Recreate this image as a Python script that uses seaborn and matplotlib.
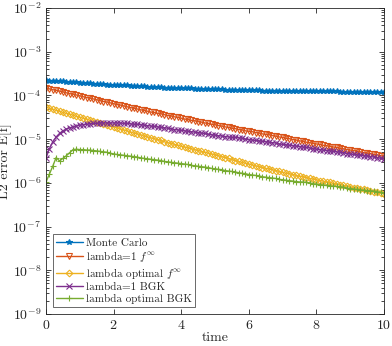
import numpy as np
import pandas as pd
import matplotlib
matplotlib.use("Agg")
import matplotlib.pyplot as plt
import seaborn as sns
from matplotlib.ticker import LogLocator

# time grid and log10 of the error for each run
time = np.round(np.arange(0, 10.01, 0.1), 1)

mc_log = [-3.65, -3.66, -3.66, -3.67, -3.67, -3.68, -3.69, -3.69, -3.70, -3.70, -3.71,
          -3.71, -3.72, -3.72, -3.73, -3.73, -3.74, -3.74, -3.75, -3.75, -3.76,
          -3.76, -3.77, -3.77, -3.77, -3.78, -3.78, -3.79, -3.79, -3.79, -3.80,
          -3.80, -3.81, -3.81, -3.81, -3.82, -3.82, -3.82, -3.83, -3.83, -3.83,
          -3.84, -3.84, -3.84, -3.85, -3.85, -3.85, -3.85, -3.86, -3.86, -3.86,
          -3.86, -3.86, -3.87, -3.87, -3.87, -3.87, -3.87, -3.88, -3.88, -3.88,
          -3.88, -3.88, -3.88, -3.89, -3.89, -3.89, -3.89, -3.89, -3.89, -3.90,
          -3.90, -3.90, -3.90, -3.90, -3.90, -3.90, -3.91, -3.91, -3.91, -3.91,
          -3.91, -3.91, -3.91, -3.91, -3.91, -3.91, -3.92, -3.92, -3.92, -3.92,
          -3.92, -3.92, -3.92, -3.92, -3.92, -3.92, -3.92, -3.92, -3.92, -3.92]

lam1_finf_log = [-3.83, -3.85, -3.87, -3.88, -3.90, -3.92, -3.94, -3.96, -3.97, -3.99, -4.01,
                 -4.03, -4.05, -4.06, -4.08, -4.10, -4.12, -4.14, -4.15, -4.17, -4.19,
                 -4.21, -4.22, -4.24, -4.26, -4.28, -4.29, -4.31, -4.33, -4.34, -4.36,
                 -4.38, -4.39, -4.41, -4.42, -4.44, -4.46, -4.47, -4.49, -4.50, -4.52,
                 -4.54, -4.55, -4.57, -4.58, -4.60, -4.61, -4.63, -4.64, -4.66, -4.67,
                 -4.69, -4.70, -4.72, -4.73, -4.75, -4.76, -4.78, -4.79, -4.81, -4.82,
                 -4.83, -4.85, -4.86, -4.88, -4.89, -4.90, -4.92, -4.93, -4.95, -4.96,
                 -4.98, -4.99, -5.01, -5.02, -5.04, -5.05, -5.07, -5.08, -5.10, -5.11,
                 -5.12, -5.14, -5.15, -5.17, -5.18, -5.19, -5.21, -5.22, -5.24, -5.25,
                 -5.26, -5.28, -5.29, -5.31, -5.32, -5.33, -5.35, -5.36, -5.38, -5.39]

lamopt_finf_log = [-4.27, -4.29, -4.32, -4.34, -4.36, -4.39, -4.41, -4.43, -4.45, -4.48, -4.50,
                   -4.52, -4.54, -4.57, -4.59, -4.61, -4.63, -4.65, -4.68, -4.70, -4.72,
                   -4.74, -4.77, -4.79, -4.81, -4.84, -4.86, -4.88, -4.90, -4.93, -4.95,
                   -4.97, -4.99, -5.01, -5.03, -5.06, -5.08, -5.10, -5.12, -5.14, -5.16,
                   -5.18, -5.20, -5.22, -5.24, -5.26, -5.28, -5.30, -5.32, -5.34, -5.36,
                   -5.38, -5.40, -5.42, -5.44, -5.47, -5.49, -5.51, -5.53, -5.55, -5.57,
                   -5.59, -5.61, -5.63, -5.65, -5.67, -5.68, -5.70, -5.72, -5.74, -5.76,
                   -5.78, -5.79, -5.81, -5.83, -5.85, -5.86, -5.88, -5.90, -5.91, -5.93,
                   -5.95, -5.96, -5.98, -5.99, -6.01, -6.03, -6.04, -6.06, -6.07, -6.09,
                   -6.11, -6.12, -6.14, -6.15, -6.17, -6.19, -6.20, -6.22, -6.23, -6.25]

lam1_bgk_log = [-5.43, -5.22, -5.06, -4.95, -4.87, -4.81, -4.77, -4.74, -4.72, -4.70, -4.68,
                -4.67, -4.66, -4.65, -4.64, -4.64, -4.63, -4.63, -4.63, -4.63, -4.63,
                -4.63, -4.63, -4.64, -4.64, -4.65, -4.66, -4.66, -4.67, -4.68, -4.69,
                -4.70, -4.71, -4.72, -4.73, -4.74, -4.75, -4.76, -4.78, -4.79, -4.80,
                -4.81, -4.82, -4.83, -4.84, -4.85, -4.86, -4.87, -4.89, -4.90, -4.91,
                -4.92, -4.93, -4.94, -4.95, -4.96, -4.96, -4.97, -4.98, -5.00, -5.01,
                -5.02, -5.03, -5.04, -5.05, -5.06, -5.07, -5.08, -5.09, -5.11, -5.12,
                -5.13, -5.14, -5.15, -5.16, -5.17, -5.18, -5.19, -5.20, -5.22, -5.23,
                -5.24, -5.25, -5.26, -5.27, -5.28, -5.29, -5.30, -5.31, -5.33, -5.34,
                -5.35, -5.36, -5.37, -5.38, -5.39, -5.40, -5.41, -5.42, -5.44, -5.45]

lamopt_bgk_log = [-5.98, -5.80, -5.62, -5.42, -5.50, -5.44, -5.38, -5.31, -5.24, -5.23, -5.24,
                  -5.24, -5.25, -5.25, -5.26, -5.27, -5.28, -5.29, -5.30, -5.32, -5.34,
                  -5.35, -5.36, -5.37, -5.38, -5.39, -5.40, -5.41, -5.43, -5.44, -5.45,
                  -5.46, -5.47, -5.48, -5.49, -5.51, -5.52, -5.53, -5.54, -5.55, -5.56,
                  -5.57, -5.58, -5.60, -5.61, -5.62, -5.63, -5.64, -5.65, -5.67, -5.68,
                  -5.69, -5.70, -5.72, -5.73, -5.74, -5.75, -5.77, -5.78, -5.79, -5.81,
                  -5.82, -5.83, -5.84, -5.86, -5.87, -5.88, -5.89, -5.90, -5.92, -5.93,
                  -5.94, -5.95, -5.96, -5.97, -5.98, -5.98, -5.99, -6.00, -6.02, -6.03,
                  -6.04, -6.05, -6.06, -6.07, -6.08, -6.08, -6.09, -6.10, -6.12, -6.13,
                  -6.14, -6.15, -6.16, -6.17, -6.18, -6.18, -6.19, -6.20, -6.22, -6.23]

labels = ["Monte Carlo", r"lambda=1 $f^\infty$", r"lambda optimal $f^\infty$",
          "lambda=1 BGK", "lambda optimal BGK"]
series = [mc_log, lam1_finf_log, lamopt_finf_log, lam1_bgk_log, lamopt_bgk_log]
colors = ["#0072BD", "#D95319", "#EDB120", "#7E2F8E", "#77AC30"]
markers = ["*", "v", "D", "x", "+"]
filled = [True, False, False, True, True]

sns.set_theme(style="ticks")
plt.rcParams["font.family"] = "serif"
plt.rcParams["font.serif"] = ["cmr10", "DejaVu Serif"]
plt.rcParams["mathtext.fontset"] = "cm"
plt.rcParams["axes.formatter.use_mathtext"] = True
plt.rcParams["axes.unicode_minus"] = True

fig = plt.figure(figsize=(3.92, 3.46), dpi=100)
ax = fig.add_axes([46 / 392, 1 - 314 / 346, 338 / 392, 306 / 346])

for lab, vals, col, mk, fill in zip(labels, series, colors, markers, filled):
    df = pd.DataFrame({"time": time, "err": 10 ** np.array(vals)})
    ms = 3.4 if mk == "D" else 4.3
    sns.lineplot(data=df, x="time", y="err", ax=ax, color=col, label=lab,
                 marker=mk, markersize=ms, markeredgewidth=0.8,
                 markerfacecolor=col if fill else "none", markeredgecolor=col,
                 linewidth=1.0)

ax.set_yscale("log")
ax.set_xlim(0, 10)
ax.set_ylim(1e-9, 1e-2)
ax.set_xticks([0, 2, 4, 6, 8, 10])
ax.yaxis.set_major_locator(LogLocator(base=10, numticks=20))
ax.yaxis.set_minor_locator(LogLocator(base=10, subs=np.arange(2, 10), numticks=20))
ax.tick_params(which="both", direction="in", top=True, right=True,
               colors="#262626", labelsize=10, width=0.6)
ax.tick_params(which="major", length=3.5)
ax.tick_params(which="minor", length=2)
for s in ax.spines.values():
    s.set_color("#262626")
    s.set_linewidth(0.6)

ax.set_xlabel("time", fontsize=10, color="#262626")
ax.set_ylabel("L2 error E[f]", fontsize=10, color="#262626")
ax.xaxis.set_label_coords(0.5, -0.058)
ax.yaxis.set_label_coords(-0.1, 0.5)

leg = ax.legend(loc="lower left", fontsize=8, frameon=True, fancybox=False,
                borderaxespad=0.6, handlelength=2.4, handletextpad=0.3,
                labelspacing=0.15, borderpad=0.3)
leg.get_frame().set_edgecolor("#262626")
leg.get_frame().set_linewidth(0.6)

fig.savefig("out.png", dpi=100)
plt.close(fig)
